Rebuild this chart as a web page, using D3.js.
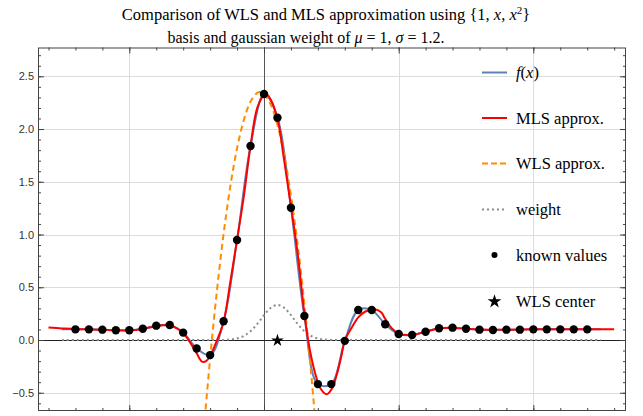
<!DOCTYPE html>
<html>
<head>
<meta charset="utf-8">
<script src="https://cdn.jsdelivr.net/npm/d3@7"></script>
<style>
  html, body { margin: 0; padding: 0; background: #fff; }
  svg { display: block; }
</style>
</head>
<body>
<svg id="chart" width="643" height="416"></svg>
<script>
// Known sample values of f at integer x
const knownX = [-14,-13,-12,-11,-10,-9,-8,-7,-6,-5,-4,-3,-2,-1,0,1,2,3,4,5,6,7,8,9,10,11,12,13,14,15,16,17,18,19,20,21,22,23,24];
const knownY = [0.101,0.101,0.098,0.092,0.092,0.107,0.136,0.142,0.070,-0.080,-0.143,0.178,0.948,1.839,2.332,2.107,1.254,0.227,-0.418,-0.418,-0.008,0.284,0.284,0.150,0.057,0.047,0.079,0.111,0.117,0.107,0.098,0.095,0.098,0.098,0.101,0.101,0.101,0.101,0.101];

// Exact function f(x)
const fX = [-15,-14,-13,-12,-11,-10,-9,-8,-7,-6,-5,-4,-3,-2,-1,0,1,2,3,4,5,6,7,8,9,10,11,12,13,14,15,16,17,18,19,20,21,22,23,24,25];
const fY = [0.102,0.101,0.101,0.098,0.092,0.092,0.107,0.136,0.142,0.070,-0.080,-0.143,0.178,0.948,1.839,2.332,2.107,1.254,0.227,-0.418,-0.418,-0.008,0.284,0.284,0.150,0.057,0.047,0.079,0.111,0.117,0.107,0.098,0.095,0.098,0.098,0.101,0.101,0.101,0.101,0.101,0.101];

// MLS approximation
const mlsX = [-16,-15,-14,-13,-12,-11,-10,-9,-8,-7.5,-7,-6.5,-6,-5.5,-5,-4.6,-4.3,-4,-3.5,-3,-2.5,-2,-1.5,-1,-0.5,0,0.2,0.5,1,1.5,2,2.5,3,3.4,3.8,4.2,4.65,5.05,5.4,5.75,6,6.5,7,7.5,8.2,8.7,9,9.5,10,11,12,13,14,15,16,18,20,22,24,26];
const mlsY = [0.118,0.110,0.103,0.100,0.097,0.093,0.092,0.105,0.130,0.140,0.138,0.112,0.065,-0.020,-0.125,-0.205,-0.200,-0.150,-0.005,0.170,0.550,0.950,1.360,1.840,2.200,2.320,2.330,2.280,2.100,1.700,1.270,0.820,0.250,-0.090,-0.315,-0.460,-0.515,-0.460,-0.330,-0.150,-0.005,0.115,0.215,0.268,0.291,0.262,0.200,0.110,0.062,0.048,0.080,0.110,0.115,0.107,0.100,0.098,0.101,0.101,0.101,0.101];

// WLS approximation (single quadratic fit)
const wlsX = [-4.4,-4,-3.5,-3,-2.5,-2,-1.5,-1,-0.5,-0.3,0,0.5,1,1.5,2,2.5,3,3.5,3.8];
const wlsY = [-0.751,-0.176,0.461,1.005,1.457,1.817,2.084,2.260,2.343,2.350,2.333,2.232,2.038,1.752,1.374,0.904,0.341,-0.314,-0.751];

// Gaussian weight, mu = 1, sigma = 1.2
const wX = [-15,-4,-3,-2.5,-2,-1.5,-1,-0.5,0,0.5,1,1.5,2,2.5,3,3.5,4,4.5,5,6,25];
const wY = [0,0,0.001,0.005,0.015,0.038,0.083,0.152,0.235,0.305,0.332,0.305,0.235,0.152,0.083,0.038,0.015,0.005,0.001,0,0];

// WLS center
const centerX = [1];
const centerY = [0];

// Axis ticks
const yMajor = [-0.5,0,0.5,1,1.5,2,2.5];
const yMinor = d3.range(-6, 28).map(v => v / 10);
const xMajor = [-10,0,10,20];
const xMinor = d3.range(-16, 28, 2);

const legendLabels = ["f(x)", "MLS approx.", "WLS approx.", "weight", "known values", "WLS center"];

const svg = d3.select("#chart");
const L = 38, R = 626, T = 47.5, B = 411;

const x = d3.scaleLinear().domain([-16.78, 26.88]).range([L, R]);
const y = d3.scaleLinear().domain([-0.673, 2.773]).range([B, T]);

svg.append("defs").append("clipPath").attr("id", "plotclip")
  .append("rect").attr("x", L).attr("y", T).attr("width", R - L).attr("height", B - T);

// Grid
const grid = svg.append("g").attr("stroke", "#dcdcdc").attr("stroke-width", 1);
grid.selectAll(".gx").data(xMajor.filter(v => v !== 0)).enter().append("line")
  .attr("x1", d => Math.round(x(d)) + 0.5).attr("x2", d => Math.round(x(d)) + 0.5)
  .attr("y1", T).attr("y2", B);
grid.selectAll(".gy").data(yMajor.filter(v => v !== 0)).enter().append("line")
  .attr("y1", d => Math.round(y(d)) + 0.5).attr("y2", d => Math.round(y(d)) + 0.5)
  .attr("x1", L).attr("x2", R);

// Axes through the origin
svg.append("line").attr("x1", Math.round(x(0)) + 0.5).attr("x2", Math.round(x(0)) + 0.5)
  .attr("y1", T).attr("y2", B).attr("stroke", "#555").attr("stroke-width", 1);
svg.append("line").attr("x1", L).attr("x2", R)
  .attr("y1", Math.round(y(0)) + 0.5).attr("y2", Math.round(y(0)) + 0.5)
  .attr("stroke", "#222").attr("stroke-width", 1);

const plot = svg.append("g").attr("clip-path", "url(#plotclip)");
const lineGen = (xs, ys) => d3.line().curve(d3.curveCatmullRom.alpha(0.5))
  .x((d, i) => x(xs[i])).y((d, i) => y(ys[i]))(xs);

// weight
plot.append("path").attr("d", lineGen(wX, wY)).attr("fill", "none")
  .attr("stroke", "#8c8c8c").attr("stroke-width", 2).attr("stroke-dasharray", "2,3");
// f(x)
plot.append("path").attr("d", lineGen(fX, fY)).attr("fill", "none")
  .attr("stroke", "#5e81b5").attr("stroke-width", 2);
// WLS
plot.append("path").attr("d", lineGen(wlsX, wlsY)).attr("fill", "none")
  .attr("stroke", "#ff8c00").attr("stroke-width", 2).attr("stroke-dasharray", "6,4");
// MLS
plot.append("path").attr("d", lineGen(mlsX, mlsY)).attr("fill", "none")
  .attr("stroke", "#ff0000").attr("stroke-width", 2);

// known values
plot.selectAll(".pt").data(knownX).enter().append("circle")
  .attr("cx", (d, i) => x(knownX[i])).attr("cy", (d, i) => y(knownY[i]))
  .attr("r", 4.2).attr("fill", "#000");

// center star
const star = d3.symbol().type(d3.symbolStar);
plot.selectAll(".star").data(centerX).enter().append("path")
  .attr("d", star.size(50)())
  .attr("transform", (d, i) => `translate(${x(centerX[i])},${y(centerY[i]) + 0.5})`)
  .attr("fill", "#000");

// Frame ticks
const tickCol = "#444";
function addAxis(gen, tx, ty) {
  const g = svg.append("g").attr("transform", `translate(${tx},${ty})`).call(gen);
  g.select(".domain").remove();
  g.selectAll(".tick line").attr("stroke", tickCol);
  return g;
}
addAxis(d3.axisBottom(x).tickValues(xMinor).tickSize(-3).tickFormat(""), 0, B);
addAxis(d3.axisBottom(x).tickValues(xMajor).tickSize(-6).tickFormat(""), 0, B);
addAxis(d3.axisTop(x).tickValues(xMinor).tickSize(-3).tickFormat(""), 0, T);
addAxis(d3.axisTop(x).tickValues(xMajor).tickSize(-6).tickFormat(""), 0, T);
addAxis(d3.axisRight(y).tickValues(yMinor).tickSize(-3).tickFormat(""), R, 0);
addAxis(d3.axisRight(y).tickValues(yMajor).tickSize(-6).tickFormat(""), R, 0);
addAxis(d3.axisLeft(y).tickValues(yMinor).tickSize(-3).tickFormat(""), L, 0);
const yl = addAxis(d3.axisLeft(y).tickValues(yMajor).tickSize(-6).tickPadding(4).tickFormat(d3.format(".1f")), L, 0);
yl.selectAll("text").attr("font-family", "Liberation Sans, Arial, sans-serif")
  .attr("font-size", 11).attr("fill", "#333");

svg.append("rect").attr("x", L + 0.5).attr("y", T + 0.5).attr("width", R - L - 1).attr("height", B - T - 1)
  .attr("fill", "none").attr("stroke", tickCol).attr("stroke-width", 1);

// Title
const serif = "Liberation Serif, Times New Roman, serif";
const t1 = svg.append("text").attr("x", 326).attr("y", 19.5).attr("text-anchor", "middle")
  .attr("font-family", serif).attr("font-size", 16.5).attr("fill", "#000");
t1.append("tspan").text("Comparison of WLS and MLS approximation using {1, ");
t1.append("tspan").attr("font-style", "italic").text("x");
t1.append("tspan").text(", ");
t1.append("tspan").attr("font-style", "italic").text("x");
t1.append("tspan").attr("font-size", 11).attr("dy", -6).text("2");
t1.append("tspan").attr("dy", 6).text("}");
const t2 = svg.append("text").attr("x", 306).attr("y", 43).attr("text-anchor", "middle")
  .attr("font-family", serif).attr("font-size", 16).attr("fill", "#000");
t2.append("tspan").text("basis and gaussian weight of ");
t2.append("tspan").attr("font-style", "italic").text("μ");
t2.append("tspan").text(" = 1, ");
t2.append("tspan").attr("font-style", "italic").text("σ");
t2.append("tspan").text(" = 1.2.");

// Legend
const legY = [72.5, 118, 163.5, 209.5, 255, 301];
const lg = svg.append("g");
const sx1 = 482, sx2 = 507, tx = 516;
lg.append("line").attr("x1", sx1).attr("x2", sx2).attr("y1", legY[0]).attr("y2", legY[0])
  .attr("stroke", "#5e81b5").attr("stroke-width", 2);
lg.append("line").attr("x1", sx1).attr("x2", sx2).attr("y1", legY[1]).attr("y2", legY[1])
  .attr("stroke", "#ff0000").attr("stroke-width", 2);
lg.append("line").attr("x1", sx1).attr("x2", sx2).attr("y1", legY[2]).attr("y2", legY[2])
  .attr("stroke", "#ff8c00").attr("stroke-width", 2).attr("stroke-dasharray", "6,3");
lg.append("line").attr("x1", sx1).attr("x2", sx2).attr("y1", legY[3]).attr("y2", legY[3])
  .attr("stroke", "#8c8c8c").attr("stroke-width", 2).attr("stroke-dasharray", "2,3");
lg.append("circle").attr("cx", 494.5).attr("cy", legY[4]).attr("r", 3).attr("fill", "#000");
lg.append("path").attr("d", star.size(60)()).attr("transform", `translate(494.5,${legY[5] + 0.5})`).attr("fill", "#000");

legendLabels.forEach((lab, i) => {
  const tEl = lg.append("text").attr("x", tx).attr("y", legY[i] + 5.5)
    .attr("font-family", serif).attr("font-size", 16.5).attr("fill", "#000");
  if (i === 0) {
    tEl.append("tspan").attr("font-style", "italic").text("f");
    tEl.append("tspan").text("(");
    tEl.append("tspan").attr("font-style", "italic").text("x");
    tEl.append("tspan").text(")");
  } else {
    tEl.text(lab);
  }
});
</script>
</body>
</html>
